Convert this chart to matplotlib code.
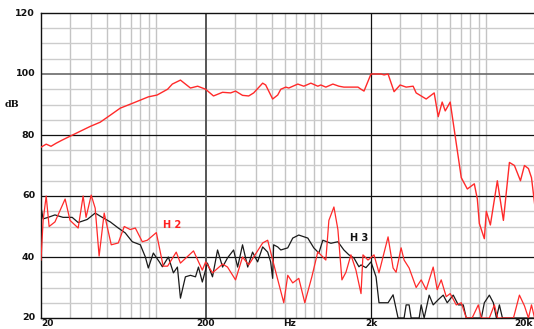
import matplotlib
matplotlib.use("Agg")
import matplotlib.pyplot as plt
import numpy as np

# ---------------- data ----------------
main_freq = [20, 21.5, 23, 24.7, 26.8, 30, 34.5, 39.7, 45.7, 52.6, 60.4, 72.5, 89.4, 101, 117, 125, 140,
             161, 178, 199, 222, 252, 282, 302, 333, 363, 389, 441, 460, 507, 544, 568, 609, 635, 720,
             783, 864, 952, 993, 1065, 1175, 1278, 1370, 1668, 1740, 1814, 2000, 2300, 2400, 2538,
             2760, 3002, 3266, 3600, 3756, 4320, 4830, 5110, 5400, 5636, 6040, 7050, 7670, 8456,
             8820, 9070, 9726, 10000, 10580, 11660, 12690, 13800, 14800, 16100, 17020, 18000, 18780, 19860]
main_db = [76, 77, 76.3, 77.3, 78.3, 79.6, 81.2, 82.8, 84.2, 86.5, 88.8, 90.5, 92.5, 93.1, 95, 96.7, 98,
           95.4, 96, 95, 92.8, 94, 93.8, 94.4, 93, 92.8, 93.8, 97, 96.4, 91.8, 93.1, 95, 95.7, 95.4, 96.7,
           96, 97, 96, 96.4, 95.7, 96.7, 96, 95.7, 95.7, 95, 94.4, 100, 100, 99.7, 100,
           94.2, 96.4, 95.7, 96, 93.8, 91.8, 93.8, 86, 90.8, 87.9, 90.8, 66, 62.3, 64,
           59, 51, 46, 55, 50.5, 65, 52, 71, 70, 65, 70, 69, 66, 55]

h2_freq = [20, 20.6, 21.5, 22.4, 24.3, 28, 30, 33.6, 36, 37.5, 40.3, 42.6, 45, 48.3, 53.3, 58.8, 63.9,
           69.5, 74.6, 82.2, 88.2, 100, 110, 117, 132, 140, 168, 190, 199, 219, 252, 270, 302, 333,
           363, 389, 441, 473, 507, 592, 626, 671, 730, 794, 876, 952, 1065, 1111, 1192, 1260, 1333,
           1410, 1511, 1621, 1740, 1788, 1918, 2086, 2236, 2538, 2722, 2838, 3044, 3174, 3404, 3756,
           4028, 4320, 4764, 5038, 5328, 5712, 6040, 6574, 7050, 7560, 8200, 8940, 9330, 10430, 11190,
           11700, 14600, 15870, 17020, 18000, 18780, 19600]
h2_db = [39, 52, 60, 50, 51.5, 59, 52, 49.5, 60, 53, 60.3, 56, 40.3, 54.4, 44, 44.6, 50,
         49, 49.5, 45, 45.5, 48, 37, 37, 41.6, 38, 42, 35.7, 38.4, 34.8, 37.7, 36.7, 32.5, 40,
         37.4, 40, 44.6, 45.5, 39, 25, 34, 31.5, 33, 25, 33.5, 41.7, 39, 52, 56.4, 49, 32.5,
         35, 40.7, 35.7, 28, 40.7, 39, 40.7, 34.8, 46.6, 36.4, 35, 43, 39, 36.4, 30,
         32.5, 29.3, 36.7, 29.3, 32.5, 27, 28, 24.3, 25, 20, 20, 24.3, 20, 20, 24.3,
         20, 20, 27.5, 24, 20, 24.3, 20]

h3_freq = [20, 20.6, 22.1, 24.3, 27.2, 30.9, 33.6, 38.1, 42.6, 47, 52.6, 58.8, 64.8, 71.5, 80, 85.8,
           89.4, 95.9, 104.3, 108.8, 118.3, 126.9, 134.2, 140, 150, 161, 172.7, 180, 190, 204, 219,
           235, 252, 270, 294, 311, 333, 358, 383, 411, 441, 473, 493, 507, 514, 544, 568, 626, 671,
           730, 828, 900, 966, 1021, 1143, 1260, 1370, 1470, 1576, 1690, 1740, 1864, 2000, 2146, 2236,
           2538, 2722, 2918, 3174, 3266, 3404, 3502, 3916, 4028, 4200, 4504, 4764, 5110, 5480, 5794,
           6302, 6760, 7250, 7560, 9330, 9726, 10430, 11030, 11510, 12000, 12520, 20000]
h3_db = [56.4, 52.5, 53, 53.8, 53, 53, 51.3, 52.3, 54.4, 53, 51.5, 49.5, 47.9, 45, 44, 40,
         36.4, 41.3, 38.4, 36.8, 40, 34.8, 36.7, 26.5, 33.5, 34, 33.5, 36.7, 31.8, 38, 33.5,
         42.3, 36.7, 39.7, 42.3, 36.7, 44, 36.7, 41.6, 38.4, 43.3, 41.6, 38.4, 33, 44, 43.3, 42.3, 43, 46.2,
         47.2, 46.2, 43, 41.3, 45.5, 44.5, 45, 42.3, 40.7, 39.7, 36.8, 37.4, 36.5, 38.4, 33.5, 25,
         25, 27.6, 20, 20, 24.3, 24.3, 20, 20, 24.3, 20, 27.5, 24.3, 26, 27.5, 25,
         27.5, 24.3, 24.3, 20, 20, 25, 27.5, 25, 20, 24.3, 20, 20]

y_ticks = [20, 40, 60, 80, 100, 120]
y_minor = [25, 30, 35, 45, 50, 55, 65, 70, 75, 85, 90, 95, 105, 110, 115]
x_minor = [30, 40, 50, 60, 70, 80, 90, 100, 300, 400, 500, 600, 700, 800, 900, 1000,
           3000, 4000, 5000, 6000, 7000, 8000, 9000, 10000]
x_major = [20, 200, 2000, 20000]
x_labels = ["20", "200", "2k", "20k"]

# ---------------- figure ----------------
W, H = 534, 329
fig = plt.figure(figsize=(W / 100, H / 100), dpi=100)
ax = fig.add_axes([41 / W, 11 / H, (536 - 41) / W, (318 - 13) / H])
ax.set_xscale("log")
ax.set_xlim(20, 20000)
ax.set_ylim(20, 120)

for f in x_minor:
    ax.axvline(f, color="#c4c4c4", lw=1.0, zorder=1)
for v in y_minor:
    ax.axhline(v, color="#cccccc", lw=1.0, zorder=1)
ax.axhline(100, color="#6a6a6a", lw=1.2, zorder=2)
for v in [40, 60, 80]:
    ax.axhline(v, color="#111111", lw=0.9, zorder=2)
ax.axvline(200, color="#555555", lw=1.4, zorder=2)
ax.axvline(2000, color="#111111", lw=0.9, zorder=2)

ax.plot(main_freq, main_db, color="#ff2a2a", lw=1.0, zorder=4)
ax.plot(h2_freq, h2_db, color="#ff2a2a", lw=0.9, zorder=4)
ax.plot(h3_freq, h3_db, color="#1a1a1a", lw=0.9, zorder=3)

for s in ["top", "left", "bottom"]:
    ax.spines[s].set_color("#111111")
    ax.spines[s].set_linewidth(1.0)
ax.spines["right"].set_visible(False)

ax.set_xticks([])
ax.set_yticks([])
ax.minorticks_off()

lab_font = dict(family="DejaVu Sans", weight="bold", size=6.8, color="#111111")
for v in y_ticks:
    ax.text(-0.012, (v - 20) / 100, str(v), transform=ax.transAxes, ha="right", va="center", **lab_font)
ax.text(-0.058, 0.70, "dB", transform=ax.transAxes, ha="center", va="center",
        family="DejaVu Serif", weight="bold", size=6.8, color="#111111")

# x labels: baseline placed at pixel row ~326.5 from the top of the figure
xl_font = dict(family="DejaVu Sans", weight="bold", size=6.5, color="#111111")
y_base = 1 - 326.5 / H
import matplotlib.transforms as mtransforms
trans = mtransforms.blended_transform_factory(ax.transData, fig.transFigure)
ax.text(20, y_base, x_labels[0], transform=trans, ha="left", va="baseline", **xl_font)
ax.text(200, y_base, x_labels[1], transform=trans, ha="center", va="baseline", **xl_font)
ax.text(2000, y_base, x_labels[2], transform=trans, ha="center", va="baseline", **xl_font)
ax.text(0.997, y_base, x_labels[3], transform=fig.transFigure, ha="right", va="baseline", **xl_font)
ax.text(640, y_base, "Hz", transform=trans, ha="center", va="baseline", **xl_font)

ax.text(109, 50.5, "H 2", color="#ff2020", weight="bold", size=7, ha="left", va="center", zorder=5)
ax.text(1490, 46.2, "H 3", color="#111111", weight="bold", size=7, ha="left", va="center", zorder=5)

fig.savefig("out.png", dpi=100)
